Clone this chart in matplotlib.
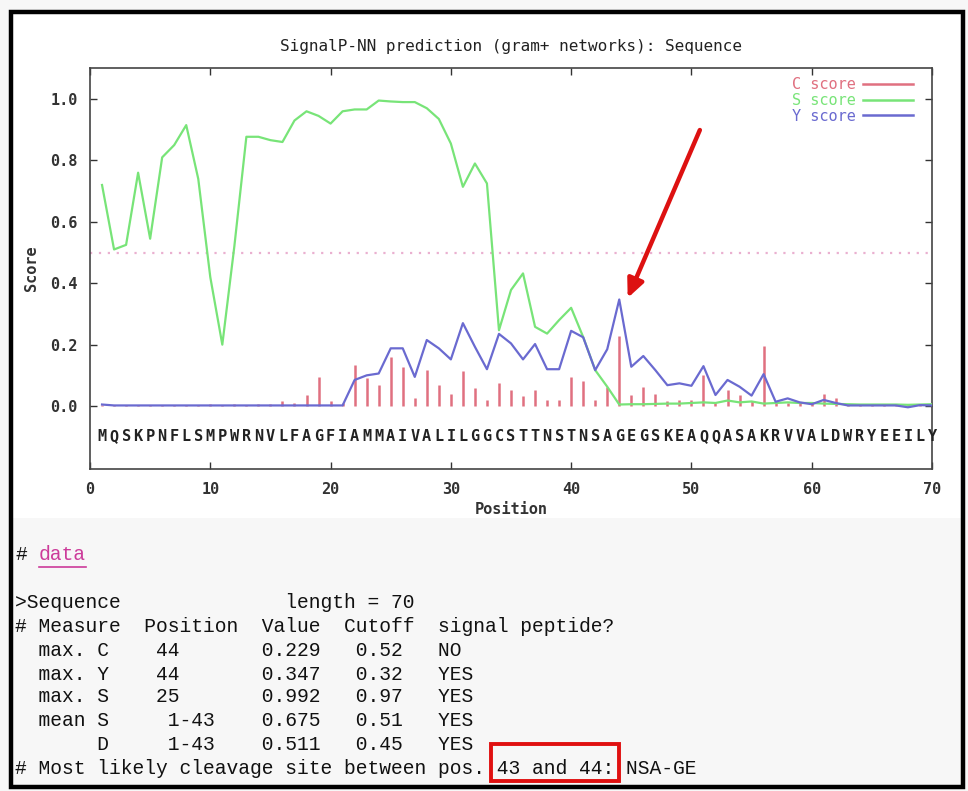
import matplotlib
matplotlib.use("Agg")
import matplotlib.pyplot as plt
from matplotlib.patches import Rectangle
from matplotlib.lines import Line2D

# ---------------- data ----------------
sequence = "MQSKPNFLSMPWRNVLFAGFIAMMAIVALILGGCSTTNSTNSAGEGSKEAQQASAKRVVALDWRYEEILY"
positions = list(range(1, 71))

c_score = [0.005, 0.003, 0.004, 0.003, 0.002, 0.005, 0.004, 0.003, 0.005, 0.006,
           0.005, 0.007, 0.004, 0.008, 0.006, 0.015, 0.010, 0.036, 0.095, 0.015,
           0.010, 0.135, 0.092, 0.070, 0.160, 0.128, 0.025, 0.117, 0.070, 0.038,
           0.114, 0.060, 0.020, 0.075, 0.053, 0.033, 0.053, 0.020, 0.020, 0.095,
           0.082, 0.020, 0.063, 0.229, 0.036, 0.063, 0.040, 0.015, 0.020, 0.020,
           0.100, 0.010, 0.053, 0.036, 0.016, 0.195, 0.010, 0.010, 0.010, 0.010,
           0.040, 0.025, 0.005, 0.004, 0.004, 0.008, 0.005, 0.006, 0.004, 0.005]

s_score = [0.720, 0.510, 0.525, 0.760, 0.545, 0.810, 0.850, 0.915, 0.740, 0.420,
           0.200, 0.520, 0.877, 0.877, 0.866, 0.860, 0.930, 0.960, 0.945, 0.920,
           0.960, 0.966, 0.966, 0.995, 0.992, 0.990, 0.990, 0.970, 0.935, 0.855,
           0.714, 0.790, 0.725, 0.247, 0.378, 0.432, 0.258, 0.236, 0.280, 0.320,
           0.225, 0.117, 0.063, 0.005, 0.006, 0.006, 0.007, 0.008, 0.008, 0.010,
           0.012, 0.010, 0.018, 0.012, 0.015, 0.008, 0.010, 0.012, 0.010, 0.010,
           0.008, 0.007, 0.006, 0.005, 0.005, 0.005, 0.005, 0.004, 0.005, 0.006]

y_score = [0.005, 0.002, 0.002, 0.002, 0.002, 0.002, 0.002, 0.002, 0.002, 0.002,
           0.002, 0.002, 0.002, 0.002, 0.002, 0.002, 0.002, 0.002, 0.002, 0.002,
           0.002, 0.085, 0.100, 0.106, 0.188, 0.188, 0.095, 0.215, 0.188, 0.152,
           0.270, 0.193, 0.120, 0.235, 0.204, 0.152, 0.202, 0.120, 0.120, 0.245,
           0.224, 0.117, 0.185, 0.347, 0.128, 0.163, 0.117, 0.068, 0.074, 0.066,
           0.130, 0.036, 0.085, 0.063, 0.034, 0.104, 0.014, 0.025, 0.012, 0.006,
           0.020, 0.010, 0.002, 0.002, 0.002, 0.002, 0.002, -0.004, 0.003, 0.002]

cutoff_line = 0.5
x_ticks = [0, 10, 20, 30, 40, 50, 60, 70]
y_ticks = [0.0, 0.2, 0.4, 0.6, 0.8, 1.0]
arrow_tip = (44.7, 0.352)
arrow_tail = (50.7, 0.899)

title = "SignalP-NN prediction (gram+ networks): Sequence"

report_lines = [
    (603, ">Sequence              length = 70"),
    (626, "# Measure  Position  Value  Cutoff  signal peptide?"),
    (650, "  max. C    44       0.229   0.52   NO"),
    (674, "  max. Y    44       0.347   0.32   YES"),
    (697, "  max. S    25       0.992   0.97   YES"),
    (721, "  mean S     1-43    0.675   0.51   YES"),
    (745, "       D     1-43    0.511   0.45   YES"),
    (769, "# Most likely cleavage site between pos. 43 and 44: NSA-GE"),
]

# ---------------- figure ----------------
W, H = 968, 791
fig = plt.figure(figsize=(W / 100, H / 100), dpi=100)
fig.patch.set_facecolor("#f7f7f7")


def fx(px):
    return px / W


def fy(py):
    return 1 - py / H


# white chart image background
bg = Rectangle((fx(13), fy(518)), fx(962) - fx(13), fy(13) - fy(518),
               transform=fig.transFigure, facecolor="white",
               edgecolor="none", zorder=-5)
fig.patches.append(bg)

ax = fig.add_axes([fx(90), fy(469), fx(932) - fx(90), fy(68) - fy(469)])
ax.set_zorder(2)
ax.set_xlim(0, 70)
ax.set_ylim(-0.205, 1.101)

c_col = "#e07080"
s_col = "#78e478"
y_col = "#6a6ad0"

ax.vlines(positions, 0, c_score, color=c_col, lw=1.8, zorder=2)
ax.plot(positions, s_score, color=s_col, lw=1.6, zorder=3)
ax.plot(positions, y_score, color=y_col, lw=1.6, zorder=4)
ax.axhline(cutoff_line, color="#eab0d0", lw=1.6, ls=(0, (1, 3)), zorder=1)

mono = "DejaVu Sans Mono"
for p, ch in zip(positions, sequence):
    ax.text(p, -0.10, ch, ha="center", va="center", family=mono,
            fontweight="bold", fontsize=11, color="#222222", clip_on=False, zorder=5)

ax.set_xticks(x_ticks)
ax.set_yticks(y_ticks)
ax.set_xticklabels([str(t) for t in x_ticks])
ax.set_yticklabels([f"{t:.1f}" for t in y_ticks])
ax.tick_params(direction="in", length=5, width=1, top=True, right=True,
               labelsize=11, colors="#333333", pad=9)
for lab in ax.get_xticklabels() + ax.get_yticklabels():
    lab.set_family(mono)
    lab.set_fontweight("bold")
for sp in ax.spines.values():
    sp.set_color("#444444")
    sp.set_linewidth(1.2)

ax.set_xlabel("Position", family=mono, fontsize=11, fontweight="bold",
              color="#333333", labelpad=4)
ax.set_ylabel("Score", family=mono, fontsize=11, fontweight="bold",
              color="#333333", labelpad=8)
ax.set_title(title, family=mono, fontsize=11.5, color="#222222", pad=12.5)

handles = [Line2D([], [], color=c_col, lw=1.8),
           Line2D([], [], color=s_col, lw=1.8),
           Line2D([], [], color=y_col, lw=1.8)]
leg = ax.legend(handles, ["C score", "S score", "Y score"], loc="upper right",
                bbox_to_anchor=(0.978, 0.977), frameon=False, markerfirst=False,
                handlelength=3.3, handletextpad=0.5, labelspacing=0.05,
                borderpad=0, borderaxespad=0,
                prop={"family": mono, "size": 11}, labelcolor="linecolor")

ax.annotate("", xy=arrow_tip, xytext=arrow_tail,
            arrowprops=dict(arrowstyle="-|>,head_length=1.1,head_width=0.5",
                            color="#dd1111", lw=3.2, shrinkA=0, shrinkB=0),
            zorder=6)

# ---------------- report text ----------------
tfont = "Liberation Mono"
tsize = 14.1
char_w = 11.76  # px per character
x0 = 15
fig.text(fx(x0), fy(555), "#", family=tfont, fontsize=tsize, color="#111111",
         ha="left", va="center")
fig.text(fx(x0 + 2 * char_w), fy(555), "data", family=tfont, fontsize=tsize,
         color="#cc3b9a", ha="left", va="center")
fig.lines.append(Line2D([fx(x0 + 2 * char_w), fx(x0 + 6 * char_w)], [fy(567), fy(567)],
                        transform=fig.transFigure, color="#cc3b9a", lw=1.2))
for yy, line in report_lines:
    fig.text(fx(x0), fy(yy), line, family=tfont, fontsize=tsize, color="#111111",
             ha="left", va="center")

# red highlight box around "43 and 44:"
bx0 = x0 + 41 * char_w - 6
bx1 = x0 + 51 * char_w + 4
fig.patches.append(Rectangle((fx(bx0), fy(781)), fx(bx1) - fx(bx0), fy(744) - fy(781),
                             transform=fig.transFigure, facecolor="none",
                             edgecolor="#e01010", lw=2.8, zorder=10))

# outer black border
fig.patches.append(Rectangle((fx(11), fy(787)), fx(963) - fx(11), fy(12) - fy(787),
                             transform=fig.transFigure, facecolor="none",
                             edgecolor="black", lw=3.2, zorder=10))

fig.savefig("out.png", dpi=100, facecolor=fig.get_facecolor())
